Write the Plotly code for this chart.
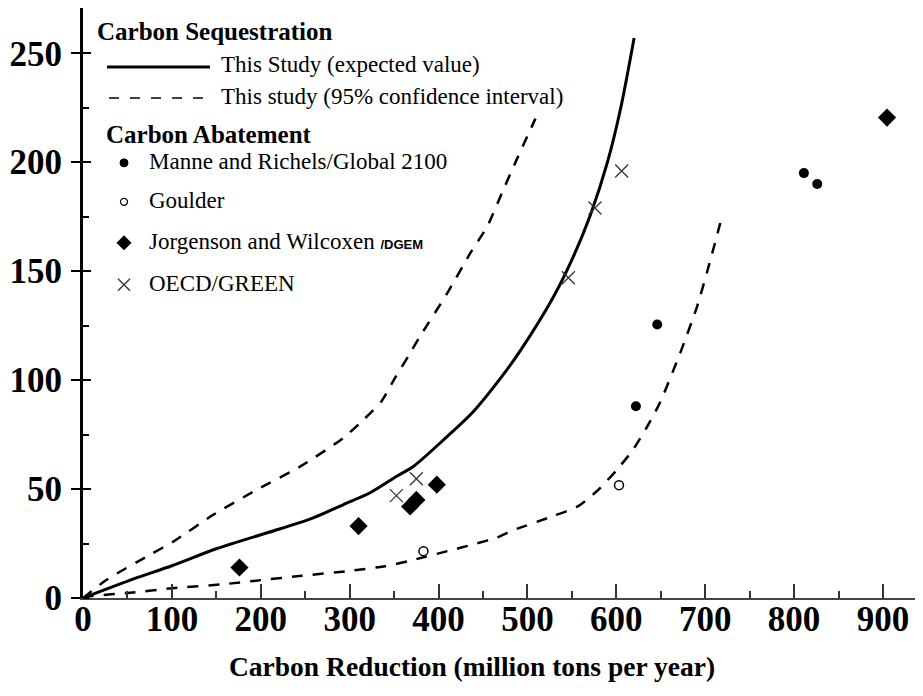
import plotly.graph_objects as go

# ---- data ----
exp_x = [0, 57, 100, 150, 222, 259, 293, 323, 353, 372, 408, 439, 470, 492, 529, 552, 571, 590, 605, 620]
exp_y = [0, 8.8, 14.8, 22.6, 31.8, 36.8, 42.9, 48.3, 55.9, 60.5, 73.5, 85.5, 101, 113.5, 138, 157, 176, 200, 225, 257]

up_x = [0, 27, 76, 102, 147, 196, 245, 293, 316, 336, 351, 366, 379, 410, 436, 455, 473, 488, 509]
up_y = [0, 8.5, 20, 26, 38.3, 49.8, 60.5, 73.5, 82, 90.4, 101, 111, 120, 140, 158.5, 170.7, 187.5, 201.3, 220]

lo_x = [0, 8, 53, 106, 155, 200, 246, 297, 340, 365, 385, 410, 439, 466, 484, 529, 556, 578, 601, 619, 635, 649, 672, 691, 706, 719]
lo_y = [0, 0.8, 2.4, 4.7, 6.2, 8.2, 10.2, 12.3, 14.6, 16.8, 18.9, 21.5, 24.6, 27.8, 31.1, 37.6, 41.9, 49, 59, 68.2, 78.9, 89.6, 112.6, 134, 155.4, 175.3]

manne_x = [622, 646, 811, 826]
manne_y = [88, 125.5, 195, 190]

goulder_x = [383, 603]
goulder_y = [21.5, 51.8]

jorg_x = [176, 310, 368, 375, 398, 904.5]
jorg_y = [14, 33, 42, 45, 52, 220.5]

oecd_x = [352.5, 375, 546, 576, 606]
oecd_y = [47, 54.7, 147, 179, 196]

x_ticks = [0, 100, 200, 300, 400, 500, 600, 700, 800, 900]
y_ticks = [0, 50, 100, 150, 200, 250]

legend_seq_title = "Carbon Sequestration"
legend_seq = ["This Study (expected value)", "This study (95% confidence interval)"]
legend_abt_title = "Carbon Abatement"
legend_abt = ["Manne and Richels/Global 2100", "Goulder",
              "Jorgenson and Wilcoxen <b><span style='font-family:Liberation Sans;font-size:13px'>/DGEM</span></b>",
              "OECD/GREEN"]
x_title = "Carbon Reduction (million tons per year)"

SERIF = "Liberation Serif, Times New Roman, serif"

# page body has an 8px margin: positions below are screen pixels, converted to figure pixels
OFF = 8
W, H = 923 - OFF, 696 - OFF
L, R, T = 83 - OFF, 0, 0
B = H - (598.5 - OFF)
PW, PH = W - L - R, H - T - B


def px(xs):
    return (xs - OFF - L) / PW


def py(ys):
    return (H - B - (ys - OFF)) / PH


fig = go.Figure()

fig.add_trace(go.Scatter(x=exp_x, y=exp_y, mode="lines", line=dict(color="black", width=3, shape="spline", smoothing=0.8),
                         showlegend=False, hoverinfo="skip"))
fig.add_trace(go.Scatter(x=up_x, y=up_y, mode="lines", line=dict(color="black", width=2.5, dash="11px,10px", shape="spline", smoothing=0.6),
                         showlegend=False, hoverinfo="skip"))
fig.add_trace(go.Scatter(x=lo_x, y=lo_y, mode="lines", line=dict(color="black", width=2.5, dash="11px,10px", shape="spline", smoothing=0.6),
                         showlegend=False, hoverinfo="skip"))

fig.add_trace(go.Scatter(x=manne_x, y=manne_y, mode="markers",
                         marker=dict(symbol="circle", size=10, color="black"), showlegend=False))
fig.add_trace(go.Scatter(x=goulder_x, y=goulder_y, mode="markers",
                         marker=dict(symbol="circle-open", size=9, color="black", line=dict(width=1.5)), showlegend=False))
fig.add_trace(go.Scatter(x=jorg_x, y=jorg_y, mode="markers",
                         marker=dict(symbol="diamond", size=14, color="black"), showlegend=False))
fig.add_trace(go.Scatter(x=oecd_x, y=oecd_y, mode="markers",
                         marker=dict(symbol="x-thin", size=13, color="#333", line=dict(width=1.3, color="#333")), showlegend=False))
# helper empty trace so the overlay axis (crossing ticks) is drawn
fig.add_trace(go.Scatter(x=[], y=[], yaxis="y2", showlegend=False))

xr = [0, PW / 0.8889]
yr = [0, PH / 2.1808]

fig.update_layout(
    width=W, height=H,
    margin=dict(l=L, r=R, t=T, b=B, autoexpand=False),
    paper_bgcolor="white", plot_bgcolor="white",
    showlegend=False,
    xaxis=dict(range=xr, tickvals=x_ticks, ticks="inside", ticklen=14, tickwidth=2, tickcolor="#333",
               showline=True, linecolor="#444", linewidth=2, showgrid=False, zeroline=False,
               tickfont=dict(family=SERIF, size=35, color="black", weight="bold"),
               minor=dict(dtick=50, tick0=0, ticks="inside", ticklen=7, tickwidth=1.5, tickcolor="#333"),
               ticklabelstandoff=-11, automargin=False),
    yaxis=dict(range=yr, tickvals=y_ticks, ticks="outside", ticklen=9, tickwidth=2, tickcolor="black",
               showline=True, linecolor="black", linewidth=3, showgrid=False, zeroline=False,
               tickfont=dict(family=SERIF, size=35, color="black", weight="bold"),
               minor=dict(dtick=25, tick0=0, ticks="inside", ticklen=6, tickwidth=1.5, tickcolor="black"),
               ticklabelstandoff=2, automargin=False),
    yaxis2=dict(range=yr, overlaying="y", side="left", anchor="x", tickvals=y_ticks, ticks="inside",
                ticklen=8, tickwidth=2, tickcolor="black", showticklabels=False, showline=False,
                showgrid=False, zeroline=False),
)

ann = []
shapes = []

# legend: Carbon Sequestration
ann.append(dict(x=px(95), y=py(32), xref="paper", yref="paper", text="<b>" + legend_seq_title + "</b>",
                xanchor="left", yanchor="middle", showarrow=False, font=dict(family=SERIF, size=25, color="black")))
shapes.append(dict(type="line", xref="paper", yref="paper", x0=px(107), x1=px(210), y0=py(67), y1=py(67),
                   line=dict(color="black", width=3)))
ann.append(dict(x=px(219), y=py(65), xref="paper", yref="paper", text=legend_seq[0],
                xanchor="left", yanchor="middle", showarrow=False, font=dict(family=SERIF, size=23, color="black")))
shapes.append(dict(type="line", xref="paper", yref="paper", x0=px(109), x1=px(209), y0=py(98), y1=py(98),
                   line=dict(color="black", width=1.5, dash="10px,11px")))
ann.append(dict(x=px(219), y=py(97), xref="paper", yref="paper", text=legend_seq[1],
                xanchor="left", yanchor="middle", showarrow=False, font=dict(family=SERIF, size=23, color="black")))

# legend: Carbon Abatement
ann.append(dict(x=px(104), y=py(135), xref="paper", yref="paper", text="<b>" + legend_abt_title + "</b>",
                xanchor="left", yanchor="middle", showarrow=False, font=dict(family=SERIF, size=25, color="black")))
rows = [163, 202, 243, 285]
for yy, txt in zip(rows, legend_abt):
    ann.append(dict(x=px(147), y=py(yy - 1), xref="paper", yref="paper", text=txt,
                    xanchor="left", yanchor="middle", showarrow=False, font=dict(family=SERIF, size=23, color="black")))

cx = px(124)
shapes.append(dict(type="circle", xref="paper", yref="paper", xsizemode="pixel", ysizemode="pixel",
                   xanchor=cx, yanchor=py(163), x0=-4, x1=4, y0=-4, y1=4,
                   fillcolor="black", line=dict(color="black", width=1)))
shapes.append(dict(type="circle", xref="paper", yref="paper", xsizemode="pixel", ysizemode="pixel",
                   xanchor=cx, yanchor=py(202), x0=-3.5, x1=3.5, y0=-3.5, y1=3.5,
                   line=dict(color="black", width=1.3)))
shapes.append(dict(type="path", xref="paper", yref="paper", xsizemode="pixel", ysizemode="pixel",
                   xanchor=cx, yanchor=py(243), path="M -7 0 L 0 7 L 7 0 L 0 -7 Z",
                   fillcolor="black", line=dict(color="black", width=1)))
shapes.append(dict(type="path", xref="paper", yref="paper", xsizemode="pixel", ysizemode="pixel",
                   xanchor=cx, yanchor=py(285), path="M -6 -6 L 6 6 M -6 6 L 6 -6",
                   line=dict(color="#333", width=1.3)))

# x-axis title
ann.append(dict(x=px(472), y=py(667), xref="paper", yref="paper", text="<b>" + x_title + "</b>",
                xanchor="center", yanchor="middle", showarrow=False, font=dict(family=SERIF, size=27.5, color="black")))

fig.update_layout(annotations=ann, shapes=shapes)
fig.write_html("out.html")
